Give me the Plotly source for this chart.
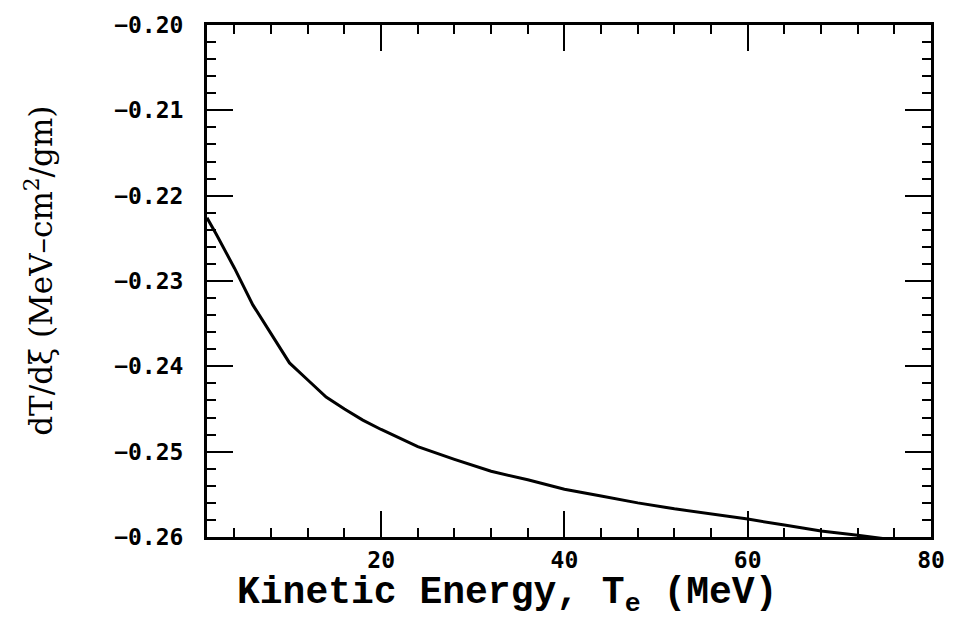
import plotly.graph_objects as go

# Stopping-power curve: kinetic energy (MeV) vs dT/dxi (MeV-cm^2/gm)
energy_mev = [1, 2, 4, 6, 8, 10, 12, 14, 16, 18, 20, 24, 28, 32, 36,
              40, 44, 48, 52, 56, 60, 64, 68, 72, 76, 80]
dT_dxi = [-0.2226, -0.2245, -0.2285, -0.2328, -0.2362, -0.2396, -0.2416,
          -0.2436, -0.2450, -0.2463, -0.2474, -0.2494, -0.2509, -0.2523,
          -0.2533, -0.2544, -0.2552, -0.2560, -0.2567, -0.2573, -0.2579,
          -0.2586, -0.2593, -0.2598, -0.2603, -0.2609]

x_ticks = [20, 40, 60, 80]
y_ticks = [-0.20, -0.21, -0.22, -0.23, -0.24, -0.25, -0.26]

tick_font = dict(family="DejaVu Sans Mono", size=23, color="black", weight="bold")

fig = go.Figure()
fig.add_trace(go.Scatter(
    x=energy_mev, y=dT_dxi, mode="lines",
    line=dict(color="black", width=3),
    showlegend=False, hoverinfo="skip",
))

axis_common = dict(
    showgrid=False, zeroline=False,
    showline=True, linecolor="black", linewidth=3,
    mirror="ticks", ticks="inside", tickcolor="black", tickwidth=2,
    tickfont=tick_font,
)

fig.update_xaxes(
    range=[1, 80], tickvals=x_ticks, ticklen=26,
    minor=dict(dtick=4, tick0=0, ticks="inside", ticklen=9,
               tickwidth=2, tickcolor="black", showgrid=False),
    ticklabelstandoff=0,
    **axis_common,
)
fig.update_yaxes(
    range=[-0.26, -0.20], tickvals=y_ticks, tickformat=".2f", ticklen=26,
    minor=dict(dtick=0.002, tick0=-0.26, ticks="inside", ticklen=9,
               tickwidth=2, tickcolor="black", showgrid=False),
    ticklabelstandoff=16,
    **axis_common,
)

fig.add_annotation(
    text="<b>Kinetic Energy, T<sub>e</sub> (MeV)</b>",
    xref="paper", yref="paper", x=0.415, y=-0.113,
    xanchor="center", yanchor="middle", showarrow=False,
    font=dict(family="Liberation Mono", size=38, color="black"),
)
fig.add_annotation(
    text="dT/dξ (MeV–cm<sup>2</sup>/gm)",
    xref="paper", yref="paper", x=-0.232, y=0.52,
    xanchor="center", yanchor="middle", textangle=-90, showarrow=False,
    font=dict(family="DejaVu Serif", size=31, color="black"),
)

fig.update_layout(
    width=957, height=622,
    margin=dict(l=207, r=20, t=22, b=85),
    paper_bgcolor="white", plot_bgcolor="white",
)

fig.write_html("out.html")
